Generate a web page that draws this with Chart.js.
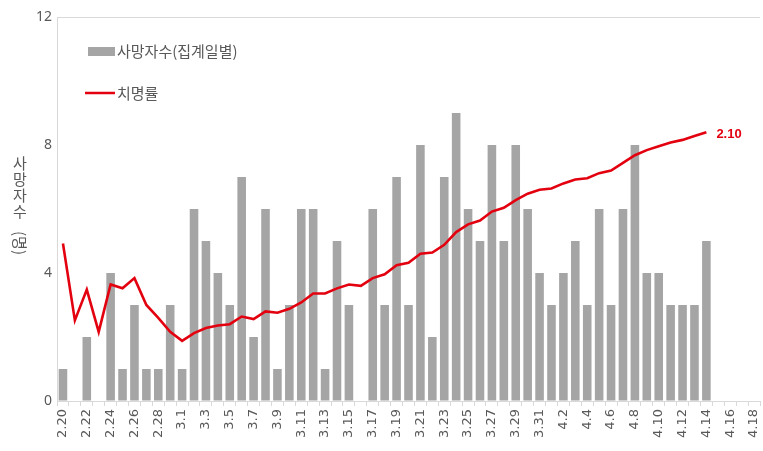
<!DOCTYPE html>
<html>
<head>
<meta charset="utf-8">
<script src="https://cdn.jsdelivr.net/npm/chart.js@4/dist/chart.umd.min.js"></script>
<style>
  html, body { margin: 0; padding: 0; background: #fff; }
  #wrap { width: 763px; height: 451px; position: relative; }
</style>
</head>
<body>
<div id="wrap"><canvas id="chart"></canvas></div>
<script>
// 날짜 (2.20 ~ 4.18)
const dates = [
  '2.20','2.21','2.22','2.23','2.24','2.25','2.26','2.27','2.28','2.29',
  '3.1','3.2','3.3','3.4','3.5','3.6','3.7','3.8','3.9','3.10',
  '3.11','3.12','3.13','3.14','3.15','3.16','3.17','3.18','3.19','3.20',
  '3.21','3.22','3.23','3.24','3.25','3.26','3.27','3.28','3.29','3.30','3.31',
  '4.1','4.2','4.3','4.4','4.5','4.6','4.7','4.8','4.9','4.10',
  '4.11','4.12','4.13','4.14','4.15','4.16','4.17','4.18'
];

// 사망자수(집계일별)
const deaths = [
  1, 0, 2, 0, 4, 1, 3, 1, 1, 3,
  1, 6, 5, 4, 3, 7, 2, 6, 1, 3,
  6, 6, 1, 5, 3, 0, 6, 3, 7, 3,
  8, 2, 7, 9, 6, 5, 8, 5, 8, 6, 4,
  3, 4, 5, 3, 6, 3, 6, 8, 4, 4,
  3, 3, 3, 5, null, null, null, null
];

// 치명률 (%)
const fatality = [
  1.23, 0.63, 0.87, 0.54, 0.91, 0.88, 0.96, 0.75, 0.65, 0.54,
  0.47, 0.53, 0.57, 0.59, 0.60, 0.66, 0.64, 0.70, 0.69, 0.72,
  0.77, 0.84, 0.84, 0.88, 0.91, 0.90, 0.96, 0.99, 1.06, 1.08,
  1.15, 1.16, 1.22, 1.32, 1.38, 1.41, 1.48, 1.51, 1.57, 1.62, 1.65,
  1.66, 1.70, 1.73, 1.74, 1.78, 1.80, 1.86, 1.92, 1.96, 1.99,
  2.02, 2.04, 2.07, 2.10, null, null, null, null
];

const yTicks = [0, 4, 8, 12];

const GRAY_TEXT = '#595959';
const BAR_COLOR = '#a5a5a5';
const LINE_COLOR = '#e3000f';
const KR_FONT = '"Noto Sans CJK KR", "Noto Sans", sans-serif';

// 범례, 축 제목, 마지막 값 라벨
const extras = {
  id: 'extras',
  afterDraw(chart) {
    const ctx = chart.ctx;
    ctx.save();

    // 범례
    ctx.fillStyle = BAR_COLOR;
    ctx.fillRect(88, 47, 27, 9);
    ctx.strokeStyle = LINE_COLOR;
    ctx.lineWidth = 2.5;
    ctx.beginPath();
    ctx.moveTo(85, 93);
    ctx.lineTo(115, 93);
    ctx.stroke();

    ctx.fillStyle = GRAY_TEXT;
    ctx.font = '15px ' + KR_FONT;
    ctx.textAlign = 'left';
    ctx.textBaseline = 'middle';
    ctx.fillText('사망자수(집계일별)', 117, 51);
    ctx.fillText('치명률', 117, 93);

    // 세로 축 제목
    ctx.font = '15px ' + KR_FONT;
    ctx.textAlign = 'center';
    const chars = ['사', '망', '자', '수'];
    chars.forEach((c, i) => ctx.fillText(c, 20, 163 + i * 16));
    ctx.translate(20, 243);
    ctx.rotate(Math.PI / 2);
    ctx.fillText('(명)', 0, 0);
    ctx.setTransform(1, 0, 0, 1, 0, 0);

    // 마지막 치명률 값
    const meta = chart.getDatasetMeta(1);
    let last = 0;
    fatality.forEach((v, i) => { if (v !== null) last = i; });
    const pt = meta.data[last];
    ctx.fillStyle = LINE_COLOR;
    ctx.font = 'bold 13px "Liberation Sans Narrow", "Liberation Sans", sans-serif';
    ctx.textAlign = 'left';
    ctx.fillText(fatality[last].toFixed(2), pt.x + 10, pt.y + 2);

    ctx.restore();
  }
};

new Chart(document.getElementById('chart'), {
  data: {
    labels: dates,
    datasets: [
      {
        type: 'bar',
        label: '사망자수(집계일별)',
        data: deaths,
        backgroundColor: BAR_COLOR,
        barPercentage: 0.72,
        categoryPercentage: 1,
        yAxisID: 'y',
        order: 2
      },
      {
        type: 'line',
        label: '치명률',
        data: fatality,
        borderColor: LINE_COLOR,
        borderWidth: 2.6,
        pointRadius: 0,
        tension: 0,
        yAxisID: 'y2',
        order: 1
      }
    ]
  },
  options: {
    responsive: true,
    maintainAspectRatio: false,
    animation: false,
    layout: { padding: { top: 17, right: 3, left: 0, bottom: 0 } },
    plugins: {
      legend: { display: false },
      tooltip: { enabled: false }
    },
    scales: {
      x: {
        offset: true,
        grid: {
          offset: true,
          drawOnChartArea: false,
          drawTicks: true,
          tickLength: 5,
          color: '#d9d9d9'
        },
        border: { color: '#d9d9d9' },
        ticks: {
          autoSkip: false,
          maxRotation: 90,
          minRotation: 90,
          padding: 3,
          color: GRAY_TEXT,
          font: { family: '"DejaVu Sans", sans-serif', size: 13 },
          callback: (v, i) => (i % 2 === 0 ? dates[i] : '')
        },
        afterFit: (s) => {
          s.height = 50;
          s.paddingLeft = 0;
          s.paddingRight = 0;
        }
      },
      y: {
        position: 'left',
        min: 0,
        max: 12,
        afterBuildTicks: (s) => { s.ticks = yTicks.map(v => ({ value: v })); },
        grid: {
          drawTicks: false,
          color: (c) => (c.tick && c.tick.value === 12 ? '#d9d9d9' : 'rgba(0,0,0,0)')
        },
        border: { color: '#d9d9d9' },
        ticks: {
          padding: 5,
          color: GRAY_TEXT,
          font: { family: '"Noto Sans", sans-serif', size: 14 }
        },
        afterFit: (s) => { s.width = 57; }
      },
      y2: {
        display: false,
        min: 0,
        max: 3
      }
    }
  },
  plugins: [extras]
});
</script>
</body>
</html>
